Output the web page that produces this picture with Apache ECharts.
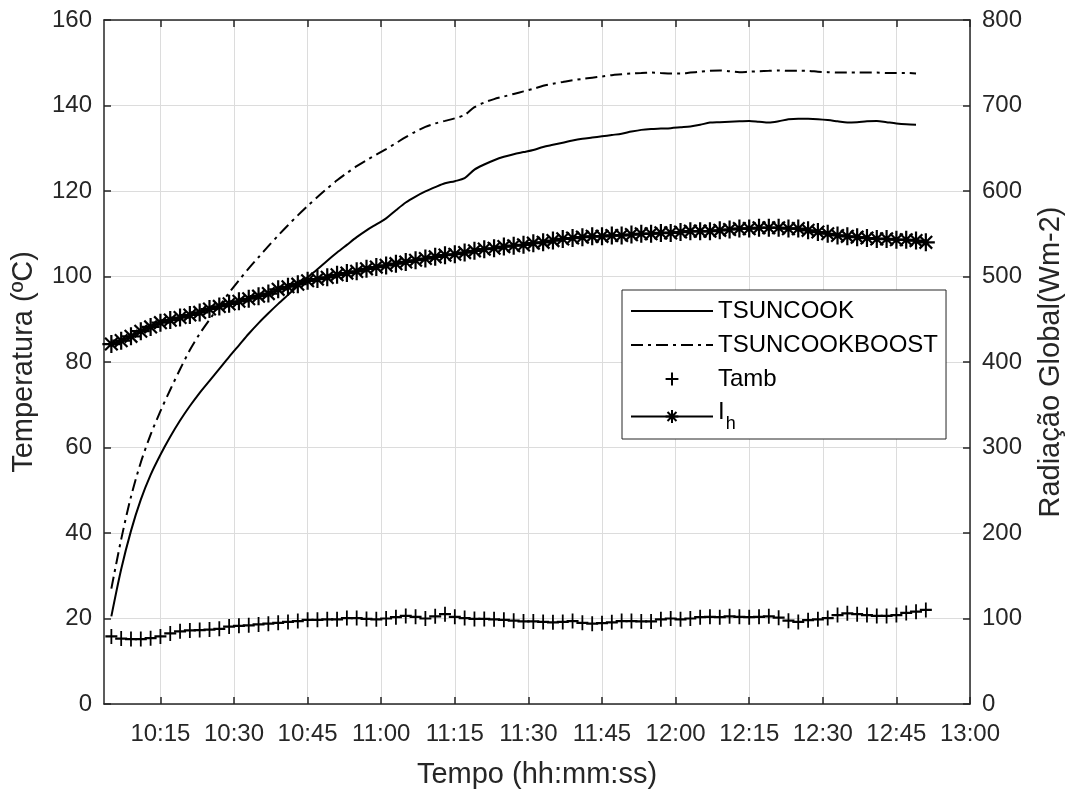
<!DOCTYPE html>
<html><head><meta charset="utf-8">
<script src="https://cdn.jsdelivr.net/npm/echarts@6/dist/echarts.min.js"></script>
<style>html,body{margin:0;padding:0;background:#fff}#c{width:1076px;height:794px}</style>
</head><body><div id="c"></div>
<script>
// ---- DATA ----
const times = [
 '10:05','10:07','10:09','10:11','10:13','10:15','10:17','10:19','10:21','10:23','10:25','10:27','10:29','10:31',
 '10:33','10:35','10:37','10:39','10:41','10:43','10:45','10:47','10:49','10:51','10:53','10:55','10:57','10:59',
 '11:01','11:03','11:05','11:07','11:09','11:11','11:13','11:15','11:17','11:19','11:21','11:23','11:25','11:27','11:29',
 '11:31','11:33','11:35','11:37','11:39','11:41','11:43','11:45','11:47','11:49','11:51','11:53','11:55','11:57','11:59',
 '12:01','12:03','12:05','12:07','12:09','12:11','12:13','12:15','12:17','12:19','12:21','12:23','12:25',
 '12:27','12:29','12:31','12:33','12:35','12:37','12:39','12:41','12:43','12:45','12:47','12:49','12:51'
];
const tsuncook = [
 20.5,31.5,40.5,47.8,53.6,58.3,62.5,66.3,69.7,72.8,75.6,78.4,81.2,83.9,
 86.6,89.1,91.4,93.6,95.7,97.8,99.8,101.7,103.7,105.6,107.4,109.2,110.8,112.2,
 113.6,115.5,117.3,118.7,119.9,120.9,121.8,122.3,123.0,125.0,126.2,127.2,128.0,128.6,129.1,
 129.6,130.3,130.8,131.3,131.8,132.2,132.5,132.8,133.1,133.4,133.9,134.3,134.5,134.6,134.7,
 134.9,135.1,135.5,136.0,136.1,136.2,136.3,136.4,136.2,136.0,136.3,136.8,136.9,
 136.9,136.8,136.6,136.3,136.0,136.1,136.3,136.4,136.1,135.8,135.6,135.5,null
];
const tsuncookBoost = [
 27.0,38.5,48.5,56.5,63.0,68.5,73.5,78.3,82.8,86.6,89.9,93.1,96.2,99.1,
 101.9,104.5,107.1,109.6,112.0,114.3,116.5,118.6,120.6,122.5,124.2,125.8,127.2,128.5,
 129.8,131.2,132.6,133.9,135.0,135.8,136.4,137.0,137.8,139.6,140.7,141.5,142.1,142.7,143.3,
 143.9,144.6,145.1,145.5,145.9,146.2,146.5,146.8,147.1,147.3,147.5,147.6,147.7,147.6,147.5,
 147.5,147.7,147.9,148.1,148.2,148.0,147.8,147.9,148.0,148.1,148.2,148.1,148.1,
 148.1,147.9,147.8,147.7,147.7,147.7,147.7,147.7,147.6,147.6,147.6,147.5,null
];
const tamb = [
 15.8,15.3,15.2,15.2,15.4,15.8,16.5,17.0,17.2,17.3,17.4,17.6,18.1,18.3,
 18.4,18.6,18.8,19.0,19.2,19.4,19.7,19.7,19.8,19.8,20.1,20.1,19.9,19.8,
 20.0,20.3,20.6,20.4,20.0,20.5,21.0,20.4,20.1,19.9,19.9,19.8,19.7,19.5,19.3,
 19.3,19.2,19.1,19.2,19.4,19.0,18.8,18.9,19.1,19.4,19.4,19.3,19.3,19.8,20.0,
 19.8,20.0,20.3,20.4,20.3,20.5,20.4,20.3,20.4,20.5,20.2,19.5,19.2,
 19.6,19.8,20.1,20.8,21.2,21.0,20.8,20.6,20.6,20.8,21.3,21.6,22.0
];
const ih = [
 421,425,430,436,441,446,449,452,455,458,462,465,468,471,
 474,477,480,485,488,491,495,497,499,502,504,506,509,511,
 513,515,517,519,521,523,525,526,528,530,532,533,535,536,537,
 539,540,542,544,545,546,547,547,548,548,549,550,550,551,551,
 552,553,553,553,554,555,556,556,557,557,557,556,556,
 554,552,550,548,547,546,545,544,544,543,543,542,540
];
const xTickLabels = ['10:15','10:30','10:45','11:00','11:15','11:30','11:45','12:00','12:15','12:30','12:45','13:00'];
const xStart = '10:03:30';
const xEnd = '13:00';

// ---- helpers ----
function toMin(s){ const p = s.split(':').map(Number); return p[0]*60 + p[1] + (p[2]||0)/60; }
function fmt(v){ const h = Math.floor(v/60 + 1e-9); const m = Math.round(v - h*60); return h + ':' + String(m).padStart(2,'0'); }
const xTickValues = xTickLabels.map(toMin);
const xs = times.map(toMin);
const pair = arr => xs.map((x,i) => [x, arr[i]]);

const FONT = "'Liberation Sans', Arial, Helvetica, sans-serif";
const AX = '#262626';
const GRID = '#dcdcdc';
const PLUS = 'path://M5,0L5,10M0,5L10,5';
const STAR = 'path://M5,0L5,10M0,5L10,5M1.5,1.5L8.5,8.5M8.5,1.5L1.5,8.5';

const chart = echarts.init(document.getElementById('c'), null, {renderer:'canvas'});
const axisLineStyle = {color: AX, width: 1.5};
chart.setOption({
  animation: false,
  backgroundColor: '#fff',
  textStyle: {fontFamily: FONT},
  grid: {left: 104, right: 106, top: 20, bottom: 89},
  xAxis: [{
    type: 'value', min: toMin(xStart), max: toMin(xEnd), position: 'bottom',
    axisLine: {show: true, onZero: false, lineStyle: axisLineStyle},
    axisTick: {show: true, inside: true, length: 7, customValues: xTickValues, lineStyle: axisLineStyle},
    axisLabel: {customValues: xTickValues, formatter: fmt, color: AX, fontSize: 24, margin: 18, fontFamily: FONT},
    splitLine: {show: true, lineStyle: {color: GRID, width: 1}},
    name: 'Tempo (hh:mm:ss)', nameLocation: 'middle', nameGap: 56,
    nameTextStyle: {fontSize: 29, color: AX, fontFamily: FONT}
  }, {
    type: 'value', min: toMin(xStart), max: toMin(xEnd), position: 'top',
    axisLine: {show: true, onZero: false, lineStyle: axisLineStyle},
    axisTick: {show: true, inside: true, length: 7, customValues: xTickValues, lineStyle: axisLineStyle},
    axisLabel: {show: false},
    splitLine: {show: false}
  }],
  yAxis: [{
    type: 'value', min: 0, max: 160, interval: 20, position: 'left',
    axisLine: {show: true, onZero: false, lineStyle: axisLineStyle},
    axisTick: {show: true, inside: true, length: 7, lineStyle: axisLineStyle},
    axisLabel: {color: AX, fontSize: 24, margin: 12, fontFamily: FONT},
    splitLine: {show: true, lineStyle: {color: GRID, width: 1}},
    name: 'Temperatura (ºC)', nameLocation: 'middle', nameGap: 66,
    nameTextStyle: {fontSize: 29, color: AX, fontFamily: FONT}
  }, {
    type: 'value', min: 0, max: 800, interval: 100, position: 'right',
    axisLine: {show: true, onZero: false, lineStyle: axisLineStyle},
    axisTick: {show: true, inside: true, length: 7, lineStyle: axisLineStyle},
    axisLabel: {color: AX, fontSize: 24, margin: 12, fontFamily: FONT},
    splitLine: {show: false},
    name: 'Radiação Global(Wm-2)', nameLocation: 'middle', nameGap: 66,
    nameTextStyle: {fontSize: 29, color: AX, fontFamily: FONT}
  }],
  legend: {
    orient: 'vertical', left: 622, top: 290,
    padding: [8, 8, 6, 8], itemWidth: 82, itemHeight: 16, itemGap: 8,
    backgroundColor: '#fff', borderColor: AX, borderWidth: 1, borderRadius: 0,
    textStyle: {fontSize: 24, color: '#000', lineHeight: 26, fontFamily: FONT,
      rich: {
        s: {fontSize: 24, lineHeight: 33, width: 0, fontFamily: FONT},
        i: {fontSize: 24, lineHeight: 24, verticalAlign: 'top', fontFamily: FONT, color: '#000'},
        h: {fontSize: 18, lineHeight: 18, verticalAlign: 'bottom', padding: [0, 0, 0, 1], fontFamily: FONT, color: '#000'}
      }},
    formatter: n => n === 'Ih' ? '{s|\u200b}{i|I}{h|h}' : n,
    data: [
      {name: 'TSUNCOOK', itemStyle: {opacity: 0}},
      {name: 'TSUNCOOKBOOST', itemStyle: {opacity: 0}},
      {name: 'Tamb', lineStyle: {opacity: 0}},
      {name: 'Ih'}
    ]
  },
  series: [{
    name: 'TSUNCOOK', type: 'line', xAxisIndex: 0, yAxisIndex: 0, data: pair(tsuncook),
    symbol: 'none', smooth: 0.3,
    lineStyle: {color: '#000', width: 2}, itemStyle: {color: '#000'}, z: 3
  }, {
    name: 'TSUNCOOKBOOST', type: 'line', xAxisIndex: 0, yAxisIndex: 0, data: pair(tsuncookBoost),
    symbol: 'none', smooth: 0.3,
    lineStyle: {color: '#000', width: 2, type: [12, 5, 3, 5]}, itemStyle: {color: '#000'}, z: 3
  }, {
    name: 'Tamb', type: 'line', xAxisIndex: 0, yAxisIndex: 0, data: pair(tamb),
    symbol: PLUS, symbolSize: [12, 15], showAllSymbol: true,
    lineStyle: {color: '#000', width: 0, opacity: 0},
    itemStyle: {color: '#000', borderColor: '#000', borderWidth: 2}, z: 4
  }, {
    name: 'Ih', type: 'line', xAxisIndex: 0, yAxisIndex: 1, data: pair(ih),
    symbol: STAR, symbolSize: 18, showAllSymbol: true,
    lineStyle: {color: '#000', width: 2.5},
    itemStyle: {color: '#000', borderColor: '#000', borderWidth: 2.2}, z: 4
  }]
});
</script>
</body></html>
